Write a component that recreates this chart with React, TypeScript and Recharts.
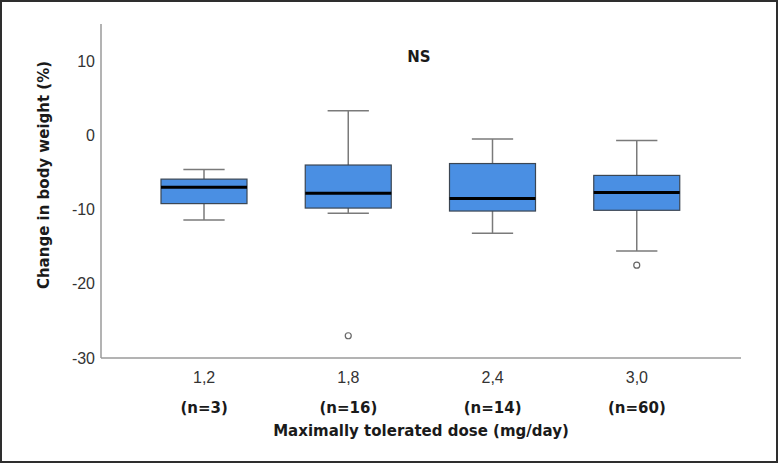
import { Bar, ComposedChart, XAxis, YAxis } from 'recharts';

// Box-plot summary per dose group
const doses = ['1,2', '1,8', '2,4', '3,0'];
const counts = [3, 16, 14, 60];
const whiskerLow = [-11.4, -10.5, -13.2, -15.6];
const q1 = [-9.2, -9.8, -10.2, -10.1];
const medians = [-7.0, -7.8, -8.5, -7.7];
const q3 = [-5.9, -4.0, -3.8, -5.4];
const whiskerHigh = [-4.6, 3.3, -0.5, -0.7];
const outliers: number[][] = [[], [-27.0], [], [-17.5]];
const yTicks = [-30, -20, -10, 0, 10];

const data = doses.map((dose, i) => ({
  dose,
  n: counts[i],
  box: [q1[i], q3[i]],
  lo: whiskerLow[i],
  q1: q1[i],
  median: medians[i],
  q3: q3[i],
  hi: whiskerHigh[i],
  outliers: outliers[i],
}));

const LABEL_FONT = '"DejaVu Sans", Verdana, sans-serif';
const TICK_FONT = '"Liberation Sans", Arial, sans-serif';

// The bar is the [q1, q3] range; whiskers, median and outliers are placed
// with the same pixels-per-unit the bar scale gives us.
function BoxShape(props: any) {
  const { x, y, width, height, payload } = props;
  if (!payload || !height) return null;
  const ppu = height / (payload.q3 - payload.q1);
  const toY = (v: number) => y + (payload.q3 - v) * ppu;
  const cx = x + width / 2;
  const capHalf = width * 0.24;
  const whisker = { stroke: '#7a7a7a', strokeWidth: 1.5 };
  return (
    <g>
      <line x1={cx} x2={cx} y1={toY(payload.hi)} y2={y} {...whisker} />
      <line x1={cx} x2={cx} y1={y + height} y2={toY(payload.lo)} {...whisker} />
      <line x1={cx - capHalf} x2={cx + capHalf} y1={toY(payload.hi)} y2={toY(payload.hi)} {...whisker} />
      <line x1={cx - capHalf} x2={cx + capHalf} y1={toY(payload.lo)} y2={toY(payload.lo)} {...whisker} />
      <rect x={x} y={y} width={width} height={height} fill="#4a8fe3" stroke="#3b4653" strokeWidth={1.2} />
      <line x1={x} x2={x + width} y1={toY(payload.median)} y2={toY(payload.median)} stroke="#000" strokeWidth={3} />
      {payload.outliers.map((o: number, k: number) => (
        <circle key={k} cx={cx} cy={toY(o)} r={3} fill="#fff" stroke="#666" strokeWidth={1.2} />
      ))}
    </g>
  );
}

function DoseTick(props: any) {
  const { x, y, payload, index } = props;
  return (
    <g>
      <text x={x} y={y + 25} textAnchor="middle" fontFamily={TICK_FONT} fontSize={16} fill="#333">
        {payload.value}
      </text>
      <text x={x} y={y + 55} textAnchor="middle" fontFamily={LABEL_FONT} fontWeight="bold" fontSize={15} fill="#1a1a1a">
        {`(n=${counts[index]})`}
      </text>
    </g>
  );
}

export default function App() {
  return (
    <div style={{ position: 'absolute', left: 0, top: 0, width: 778, height: 463, background: '#fff' }}>
      <ComposedChart
        width={778}
        height={463}
        data={data}
        margin={{ top: 24, right: 37, bottom: 0, left: 0 }}
      >
        <XAxis
          dataKey="dose"
          height={105}
          padding={{ left: 31, right: 32 }}
          tickLine={false}
          tickSize={0}
          tickMargin={0}
          axisLine={{ stroke: '#9a9a9a', strokeWidth: 1.5 }}
          tick={<DoseTick />}
          interval={0}
          label={{
            content: ({ viewBox }: any) => (
              <text
                x={viewBox.x + viewBox.width / 2}
                y={436}
                textAnchor="middle"
                fontFamily={LABEL_FONT}
                fontWeight="bold"
                fontSize={15}
                fill="#1a1a1a"
              >
                Maximally tolerated dose (mg/day)
              </text>
            ),
          }}
        />
        <YAxis
          type="number"
          domain={[-30, 15]}
          ticks={yTicks}
          width={101}
          tickLine={false}
          tickSize={0}
          tickMargin={6}
          axisLine={{ stroke: '#9a9a9a', strokeWidth: 1.5 }}
          tick={{ fill: '#333', fontSize: 16, fontFamily: TICK_FONT }}
          label={{
            content: () => (
              <text
                x={44}
                y={175}
                transform="rotate(-90 44 175)"
                textAnchor="middle"
                dominantBaseline="central"
                fontFamily={LABEL_FONT}
                fontWeight="bold"
                fontSize={15}
                fill="#1a1a1a"
              >
                Change in body weight (%)
              </text>
            ),
          }}
        />
        <Bar dataKey="box" barSize={86} shape={<BoxShape />} isAnimationActive={false} />
        <text x={419} y={62} textAnchor="middle" fontFamily={LABEL_FONT} fontWeight="bold" fontSize={15} fill="#1a1a1a">
          NS
        </text>
      </ComposedChart>
      <div
        style={{
          position: 'absolute',
          inset: 0,
          border: '2px solid #2e2e2e',
          pointerEvents: 'none',
        }}
      />
    </div>
  );
}
